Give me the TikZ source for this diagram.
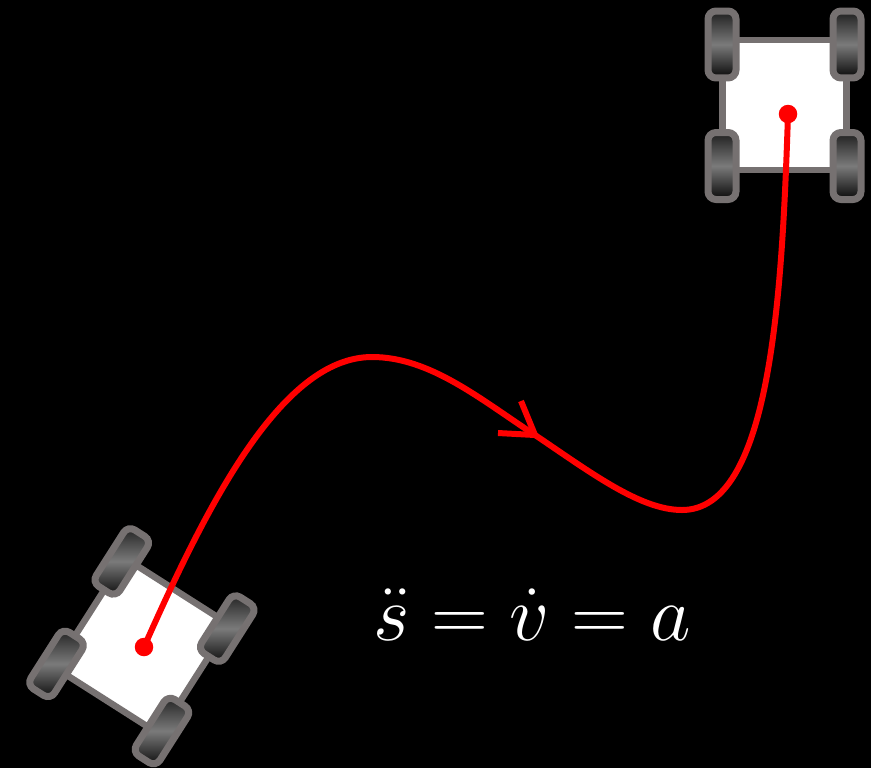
\documentclass[tikz,border=0pt]{standalone}
\definecolor{chasis}{RGB}{118,113,113}
\definecolor{rojo}{RGB}{255,0,0}
\tikzset{
  bodybox/.style={draw=chasis,fill=white,line width=.13cm,minimum width=2.48cm,minimum height=2.6cm,inner sep=0pt,transform shape},
  wheelbox/.style={draw=chasis,line width=.14cm,rounded corners=.16cm,minimum width=.56cm,minimum height=1.34cm,inner sep=0pt,
    top color=black!88,bottom color=black!97,middle color=black!52,transform shape},
  dotmark/.style={circle,fill=rojo,minimum size=.37cm,inner sep=0pt},
  pathline/.style={rojo,line width=.12cm},
  robot/.pic={
    \node[bodybox] (-body) at (0,0) {};
    \node[wheelbox] (-wheelfl) at (-62.5,-60.5) {};
    \node[wheelbox] (-wheelfr) at (62.5,-60.5) {};
    \node[wheelbox] (-wheelrl) at (-62.5,61) {};
    \node[wheelbox] (-wheelrr) at (62.5,61) {};
  },
}
\begin{document}
\begin{tikzpicture}[x=.02cm,y=-.02cm]
    % Fondo negro con las medidas de la imagen.
    \fill[black] (0,0) rectangle (871,768);
    \useasboundingbox (0,0) rectangle (871,768);

    % Los dos robots: inicio girado, final recto.
    \pic[rotate=-32.5] (robotA) at (142,646) {robot};
    \pic (robotB) at (784.5,105) {robot};
    \node[dotmark] (start) at (144,647) {};
    \node[dotmark] (goal) at (788,114) {};

    % Trayectoria entre los dos centros.
    \coordinate (crest) at (372,357);
    \coordinate (tip) at (535,435);
    \coordinate (trough) at (682,510);
    \draw[pathline] (start.center) .. controls (205,510) and (280,357) .. (crest)
        .. controls (430,357) and (480,399) .. (tip)
        .. controls (590,472) and (640,510) .. (trough)
        .. controls (770,510) and (782,300) .. (goal.center);

    % Punta abierta sobre la curva.
    \coordinate (barbA) at (498,433);
    \coordinate (barbB) at (521,401);
    \draw[pathline] (barbA) -- (tip) -- (barbB);

    \node[white,anchor=base,font=\Huge,scale=1.8,transform shape] (motion) at (532,640) {$\ddot{s}=\dot{v}=a$};
\end{tikzpicture}
\end{document}
